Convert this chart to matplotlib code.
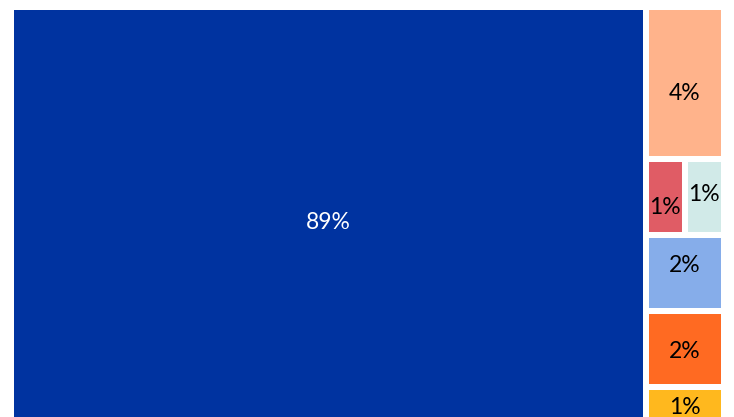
import matplotlib.pyplot as plt
from matplotlib.patches import Rectangle

# tile values (share of total, %), in drawing order
labels = ["89%", "4%", "1%", "1%", "2%", "2%", "1%"]
values = [89, 4, 1, 1, 2, 2, 1]
# which row of the right-hand column each small tile sits in (-1 = main column)
row_of = [-1, 0, 1, 1, 2, 3, 4]

colors = ["#0033A0", "#FFB38B", "#E05C65", "#D1EAE8", "#86ADEA", "#FF6A22", "#FFB81E"]
text_colors = ["white", "black", "black", "black", "black", "black", "black"]
label_dy = [6, 10, 10, -3, -7, 3, 2]  # small vertical nudges of labels (px)

W, H = 734, 417
area = (11, 7, 724, 425)  # treemap bounds in pixels (runs past the bottom edge)
pad = 3

fig = plt.figure(figsize=(W / 100, H / 100), dpi=100)
ax = fig.add_axes([0, 0, 1, 1])
ax.set_xlim(0, W)
ax.set_ylim(H, 0)
ax.axis("off")

x0, y0, x1, y1 = area
total = sum(values)

# main tile gets its own column
main_w = (x1 - x0) * values[0] / total
tiles = [(x0, y0, main_w, y1 - y0)]

# remaining tiles stacked in rows in the right column
cx = x0 + main_w
cw = x1 - cx
rest = total - values[0]
nrows = max(row_of) + 1
cy = y0
for r in range(nrows):
    idx = [i for i in range(len(values)) if row_of[i] == r]
    rv = sum(values[i] for i in idx)
    rh = (y1 - y0) * rv / rest
    xx = cx
    for i in idx:
        w = cw * values[i] / rv
        tiles.append((xx, cy, w, rh))
        xx += w
    cy += rh

for (x, y, w, h), c, lab, tc, dy in zip(tiles, colors, labels, text_colors, label_dy):
    ax.add_patch(Rectangle((x + pad, y + pad), w - 2 * pad, h - 2 * pad,
                           facecolor=c, edgecolor="none"))
    ax.text(x + w / 2, y + h / 2 + dy, lab, ha="center", va="center",
            color=tc, fontsize=16.5, family=["Lato", "DejaVu Sans"])

fig.savefig("out.png", dpi=100)
